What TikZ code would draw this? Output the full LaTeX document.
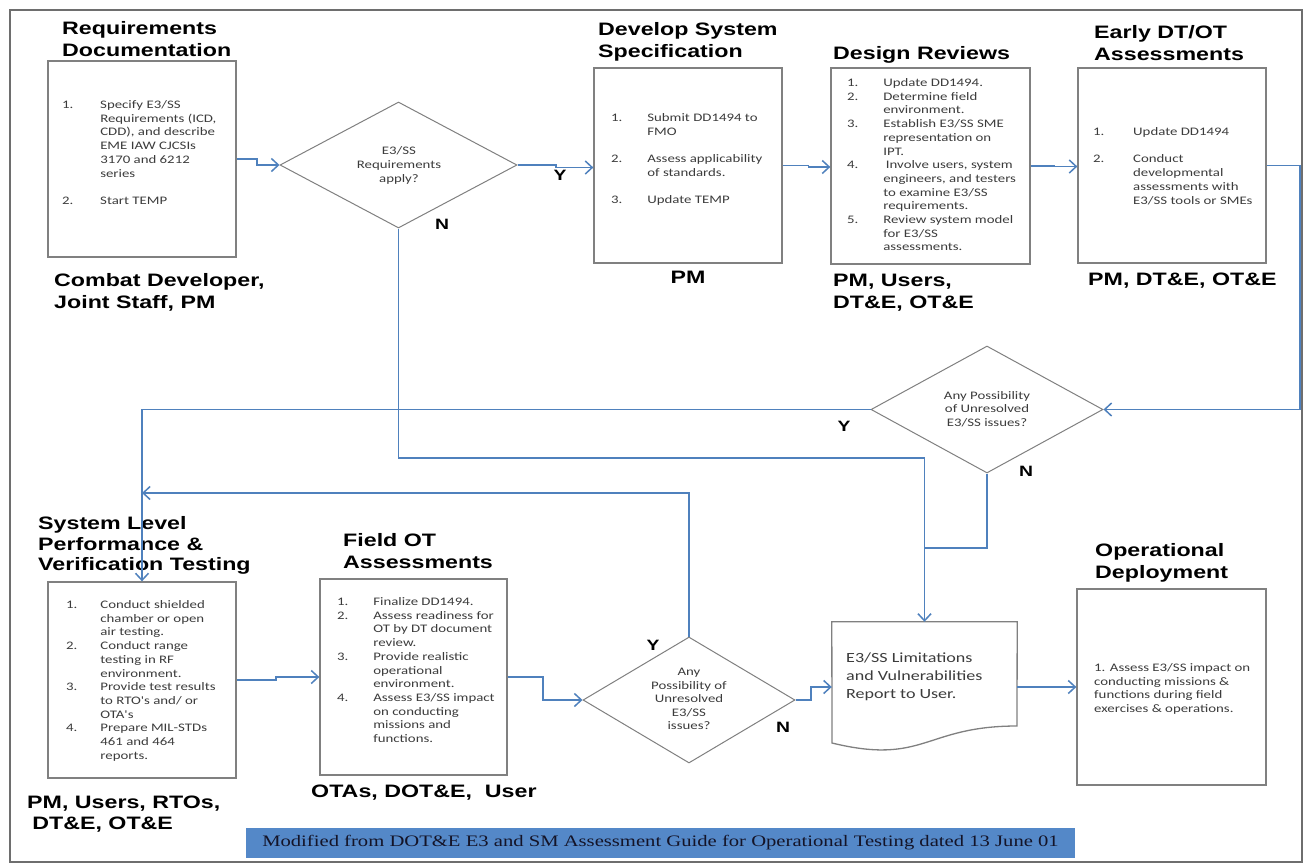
\documentclass[tikz,border=0pt]{standalone}
\usepackage{fontspec}
\usepackage{graphicx}
\setmainfont{Liberation Sans}
\newfontfamily\bodyf{Carlito}
\newfontfamily\serf{Liberation Serif}
\usetikzlibrary{shapes.geometric,arrows.meta}
\definecolor{linkblue}{RGB}{79,129,189}
\definecolor{boxc}{RGB}{128,128,128}
\definecolor{framec}{RGB}{110,110,110}
\definecolor{capblue}{RGB}{84,136,200}
\definecolor{bodyc}{RGB}{60,60,60}
\definecolor{capt}{RGB}{20,20,40}
\newcommand{\hs}[1]{\scalebox{1.29}[1]{#1}}
\newcommand{\ttl}[2][21.5]{\hs{\fontsize{18}{#1}\selectfont\bfseries\begin{tabular}[t]{@{}l@{}}#2\end{tabular}}}
\newcommand{\lst}[2]{\hs{\bodyf\fontsize{11.5}{13.7}\selectfont\begin{tabular}[t]{@{}p{#1}@{}l@{}}#2\end{tabular}}}
\newcommand{\ctr}[2][13.7]{\hs{\bodyf\fontsize{11.5}{#1}\selectfont\begin{tabular}{@{}c@{}}#2\end{tabular}}}
\begin{document}
\begin{tikzpicture}[x=1pt,y=-1pt,
  box/.style={draw=boxc,line width=1.3pt,inner sep=0pt},
  dia/.style={diamond,draw=boxc,line width=1pt,inner sep=0pt},
  link/.style={draw=linkblue,line width=1.5pt},
  arr/.style={link,-{Straight Barb[length=7pt,width=13pt]}},
  txtn/.style={inner sep=0pt,anchor=base west,text=bodyc},
  ttln/.style={inner sep=0pt,anchor=base west,text=black},
  yn/.style={inner sep=0pt,anchor=center,font=\fontsize{15}{15}\selectfont\bfseries}]
\fill[white] (0,0) rectangle (1307,865);
\useasboundingbox (0,0) rectangle (1307,865);
\draw[draw=framec,line width=2.5pt] (10,10) rectangle (1302,862);

% boxes
\node[box,minimum width=188,minimum height=196] (b1) at (142,159) {};
\node[box,minimum width=188,minimum height=195] (b2) at (688,165.5) {};
\node[box,minimum width=199,minimum height=196] (b3) at (930.5,166) {};
\node[box,minimum width=188,minimum height=195] (b4) at (1172,165.5) {};
\node[box,minimum width=188,minimum height=196] (b5) at (142,680) {};
\node[box,minimum width=187,minimum height=196] (b6) at (413.5,677) {};
\node[box,minimum width=189,minimum height=196] (b8) at (1171.5,687) {};

% diamonds
\node[dia,minimum width=237,minimum height=126] (d1) at (398.5,165) {};
\node[dia,minimum width=232,minimum height=127] (d2) at (987,409.5) {};
\node[dia,minimum width=212,minimum height=126] (d3) at (689,700) {};

% report (document shape)
\node[inner sep=0pt,minimum width=185,minimum height=103] (rep) at (924.5,673.5) {};
\draw[draw=boxc,line width=1.3pt] (rep.north west) -- (rep.north east) -- (1017,726)
  .. controls (924.5,726) and (924.5,765.5) .. (832,743) -- cycle;

% titles
\node[ttln] (t1) at (62,34.5) {\ttl{Requirements\\Documentation}};
\node[ttln] (t2) at (598,35.5) {\ttl{Develop System\\Specification}};
\node[ttln] (t3) at (833,59.5) {\ttl{Design Reviews}};
\node[ttln] (t4) at (1094,38.5) {\ttl{Early DT/OT\\Assessments}};
\node[ttln] (t5) at (38,529.5) {\ttl[20.5]{System Level\\Performance \&\\Verification Testing}};
\node[ttln] (t6) at (343,546.5) {\ttl{Field OT\\Assessments}};
\node[ttln] (t8) at (1095,556.5) {\ttl{Operational\\Deployment}};

% roles
\node[ttln] (r1) at (54,286.5) {\ttl{Combat Developer,\\Joint Staff, PM}};
\node[inner sep=0pt,anchor=base] (r2) at (688,283.5) {\ttl{PM}};
\node[ttln] (r3) at (833,286.5) {\ttl{PM, Users,\\DT\&E, OT\&E}};
\node[ttln] (r4) at (1088,285.5) {\ttl{PM, DT\&E, OT\&E}};
\node[ttln] (r5) at (27,808) {\ttl{PM, Users, RTOs,\\\hspace{4pt}DT\&E, OT\&E}};
\node[ttln] (r6) at (311,797) {\ttl{OTAs, DOT\&E,\ \ User}};

% box texts
\node[txtn] (b1t) at (62,108.5) {\lst{29.5pt}{1. & Specify E3/SS\\ & Requirements (ICD,\\ & CDD), and describe\\ & EME IAW CJCSIs\\ & 3170 and 6212\\ & series\\ & \\ 2. & Start TEMP}};
\node[txtn] (b2t) at (611,121.5) {\lst{28pt}{1. & Submit DD1494 to\\ & FMO\\ & \\ 2. & Assess applicability\\ & of standards.\\ & \\ 3. & Update TEMP}};
\node[txtn] (b3t) at (847,86.5) {\lst{28pt}{1. & Update DD1494.\\ 2. & Determine field\\ & environment.\\ 3. & Establish E3/SS SME\\ & representation on\\ & IPT.\\ 4. & \hspace{2pt}Involve users, system\\ & engineers, and testers\\ & to examine E3/SS\\ & requirements.\\ 5. & Review system model\\ & for E3/SS\\ & assessments.}};
\node[txtn] (b4t) at (1093,135.5) {\lst{31pt}{1. & Update DD1494\\ & \\ 2. & Conduct\\ & developmental\\ & assessments with\\ & E3/SS tools or SMEs}};
\node[txtn] (b5t) at (66,608.5) {\lst{26.5pt}{1. & Conduct shielded\\ & chamber or open\\ & air testing.\\ 2. & Conduct range\\ & testing in RF\\ & environment.\\ 3. & Provide test results\\ & to RTO's and/ or\\ & OTA's\\ 4. & Prepare MIL-STDs\\ & 461 and 464\\ & reports.}};
\node[txtn] (b6t) at (337,605.5) {\lst{28pt}{1. & Finalize DD1494.\\ 2. & Assess readiness for\\ & OT by DT document\\ & review.\\ 3. & Provide realistic\\ & operational\\ & environment.\\ 4. & Assess E3/SS impact\\ & on conducting\\ & missions and\\ & functions.}};
\node[txtn] (b8t) at (1094,671.5) {\hs{\bodyf\fontsize{11.5}{13.5}\selectfont\begin{tabular}[t]{@{}l@{}}1. Assess E3/SS impact on\\ conducting missions \&\\ functions during field\\ exercises \& operations.\end{tabular}}};
\node[txtn] (rept) at (846,662) {\hs{\bodyf\fontsize{14}{18}\selectfont\begin{tabular}[t]{@{}l@{}}E3/SS Limitations\\ and Vulnerabilities\\ Report to User.\end{tabular}}};

% diamond texts
\node[inner sep=0pt,text=bodyc] (d1t) at (399,166) {\ctr[14]{E3/SS\\Requirements\\apply?}};
\node[inner sep=0pt,text=bodyc] (d2t) at (987,410) {\ctr[13.5]{Any Possibility\\of Unresolved\\E3/SS issues?}};
\node[inner sep=0pt,text=bodyc] (d3t) at (689,700) {\ctr[13.5]{Any\\Possibility of\\Unresolved\\E3/SS\\issues?}};

% Y / N labels
\node[yn] (ly1) at (560,175) {\hs{Y}};
\node[yn] (ln1) at (442,224) {\hs{N}};
\node[yn] (ly2) at (844,426) {\hs{Y}};
\node[yn] (ln2) at (1026,471) {\hs{N}};
\node[yn] (ly3) at (653,645) {\hs{Y}};
\node[yn] (ln3) at (783,727) {\hs{N}};

% caption
\node[fill=capblue,inner sep=0pt,minimum width=829,minimum height=30,text=capt] (cap) at (660.5,843)
  {\hs{\serf\fontsize{16}{16}\selectfont Modified from DOT\&E E3 and SM Assessment Guide for Operational Testing dated 13 June 01}};

% connectors
\coordinate (jn) at (924.5,548);
\coordinate (lb) at (142,493);
\draw[arr] (b1.east) -- (257,159) -- (257,165) -- (d1.west);
\draw[arr] (d1.east) -- (556,165) -- (556,167.5) -- ([yshift=-2pt]b2.west);
\draw[arr] (b2.east) -- ++(26,0) |- ([yshift=-1pt]b3.west);
\draw[arr] (b3.east) -- ++(24,0) |- ([yshift=-1pt]b4.west);
\draw[arr] (b4.east) -- (1300,165.5) |- (d2.east);
\draw[arr] (d2.west) -| (b5.north);
\draw[arr] (d1.south) -- (398.5,458) -| (rep.north);
\draw[link] (d2.south) |- (jn);
\draw[arr] (b5.east) -- (276,680) |- (b6.west);
\draw[arr] (b6.east) -- (543,677) |- (d3.west);
\draw[arr] (d3.north) |- (lb);
\draw[arr] (d3.east) -- (811,700) |- ([yshift=-13.5pt]rep.west);
\draw[arr] (rep.east |- b8.west) -- (b8.west);
\end{tikzpicture}
\end{document}
